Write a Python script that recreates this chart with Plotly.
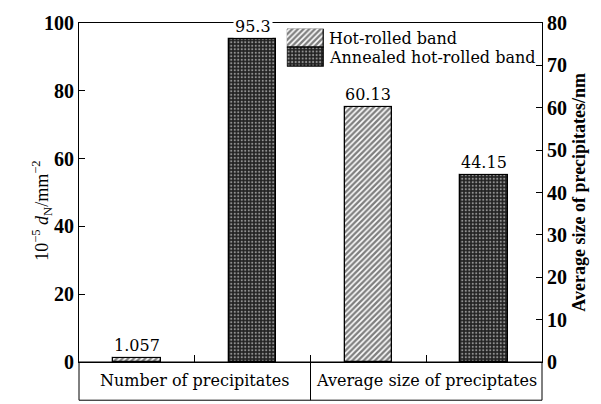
import plotly.graph_objects as go

# ---- data ----
groups = ["Number of precipitates", "Average size of preciptates"]
series = ["Hot-rolled band", "Annealed hot-rolled band"]
hot_values = [1.057, 60.13]
annealed_values = [95.3, 44.15]
group_axes = ["y", "y2"]          # number -> left axis, size -> right axis
left_ticks = [0, 20, 40, 60, 80, 100]
right_ticks = [0, 10, 20, 30, 40, 50, 60, 70, 80]

# ---- styles ----
patterns = [
    dict(shape="/", fgcolor="black", bgcolor="white", size=4, solidity=0.6),
    dict(shape=".", fgcolor="white", bgcolor="#222222", size=3.5, solidity=0.3),
]
SERIF = "DejaVu Serif"
TIMES = "Liberation Serif"
BAR_W = 0.41

fig = go.Figure()
values_by_series = [hot_values, annealed_values]
annotations = []
for si, (name, vals) in enumerate(zip(series, values_by_series)):
    for gi, (g, v) in enumerate(zip(groups, vals)):
        xpos = gi * 2 + si + 0.5
        fig.add_trace(go.Bar(
            x=[xpos], y=[v], width=BAR_W, name=name,
            yaxis=group_axes[gi], showlegend=False,
            marker=dict(color="white", pattern=patterns[si],
                        line=dict(color="black", width=1.3)),
            hoverinfo="skip",
        ))
        annotations.append(dict(
            x=xpos, y=v, xref="x", yref=group_axes[gi], text=str(v),
            showarrow=False, yanchor="bottom", yshift=1,
            font=dict(family=SERIF, size=16, color="black"),
            bgcolor="white", borderpad=1,
        ))

# custom legend (large swatches) on an inset axis pair
for si, name in enumerate(series):
    fig.add_trace(go.Bar(
        x=[1], y=[si], orientation="h", width=1, name=name,
        xaxis="x3", yaxis="y3", showlegend=False, hoverinfo="skip",
        marker=dict(color="white", pattern=patterns[si],
                    line=dict(color="black", width=1.3)),
    ))
    annotations.append(dict(
        x=0.535, y=si, xref="paper", yref="y3", text=name,
        xanchor="left", yanchor="middle", showarrow=False,
        font=dict(family=SERIF, size=16, color="black"),
    ))

# category labels in the table below the axis
for gi, g in enumerate(groups):
    annotations.append(dict(
        x=gi * 2 + 1, y=-0.056, xref="x", yref="paper", text=g,
        showarrow=False, yanchor="middle",
        font=dict(family=SERIF, size=16, color="black"),
    ))

# axis titles
annotations.append(dict(
    x=-0.112, y=0.445, xref="paper", yref="paper", textangle=-90,
    text="10<sup>\u22125</sup> <i>d</i><sub>N</sub>/mm<sup>\u22122</sup>",
    showarrow=False, font=dict(family=TIMES, size=18, color="black"),
))
annotations.append(dict(
    x=1.104, y=0.5, xref="paper", yref="paper", textangle=-90,
    text="<b>Average size of precipitates/nm</b>",
    showarrow=False, font=dict(family=TIMES, size=18, color="black"),
))

TB = -0.1127
shapes = [
    dict(type="rect", xref="paper", yref="paper", x0=0, x1=1, y0=TB, y1=0,
         line=dict(color="black", width=1)),
    dict(type="line", xref="paper", yref="paper", x0=0.5, x1=0.5, y0=TB, y1=0,
         line=dict(color="black", width=1)),
]

tickfont = dict(family=TIMES, size=20, color="black", weight="bold")
fig.update_layout(
    width=601, height=404,
    margin=dict(l=79, r=59, t=16, b=42),
    paper_bgcolor="white", plot_bgcolor="white",
    showlegend=False, bargap=0,
    xaxis=dict(range=[0, 4], showline=True, mirror=True, linecolor="black",
               linewidth=1, ticks="inside", tickvals=[1, 2, 3], ticklen=7,
               tickcolor="black", showticklabels=False, showgrid=False,
               zeroline=False),
    yaxis=dict(range=[0, 100], tickvals=left_ticks, showline=True,
               linecolor="black", linewidth=1, ticks="inside", ticklen=6,
               tickcolor="black", tickfont=tickfont, showgrid=False,
               zeroline=False),
    yaxis2=dict(range=[0, 80], tickvals=right_ticks, overlaying="y",
                side="right", showline=True, linecolor="black", linewidth=1,
                ticks="inside", ticklen=6, tickcolor="black",
                tickfont=tickfont, showgrid=False, zeroline=False),
    xaxis3=dict(domain=[0.449, 0.529], range=[0, 1], visible=False,
                anchor="y3", fixedrange=True),
    yaxis3=dict(domain=[0.870, 0.983], range=[1.5, -0.5], visible=False,
                anchor="x3", fixedrange=True),
    annotations=annotations,
    shapes=shapes,
)

fig.write_html("out.html")
